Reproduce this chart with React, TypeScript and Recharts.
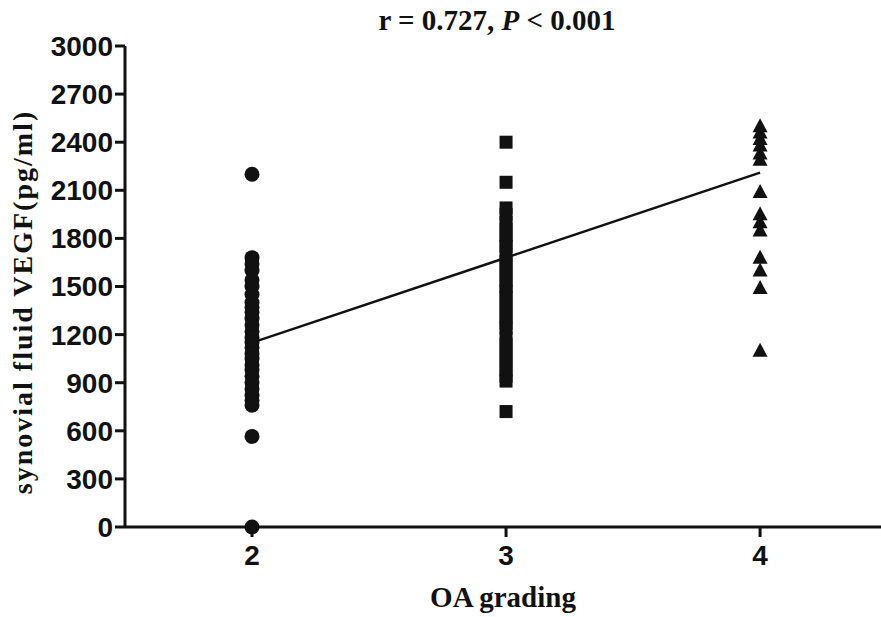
import React from 'react';
import { ScatterChart, Scatter, XAxis, YAxis } from 'recharts';

// values (pg/ml)
const grade2Values = [
  2200, 1680, 1640, 1600, 1540, 1500, 1450, 1400, 1370, 1340, 1300, 1260, 1220,
  1180, 1150, 1120, 1080, 1050, 1010, 980, 940, 900, 860, 820, 790, 760, 565, 0,
];
const grade3Values = [
  2400, 2150, 1990, 1950, 1900, 1860, 1820, 1780, 1750, 1700, 1660, 1620, 1580,
  1540, 1500, 1470, 1430, 1390, 1350, 1310, 1270, 1240, 1180, 1140, 1100, 1060,
  1020, 980, 940, 910, 720,
];
const grade4Values = [
  2500, 2460, 2420, 2380, 2330, 2290, 2090, 1950, 1900, 1850, 1680, 1600, 1490, 1100,
];
const fitX = [2, 4];
const fitY = [1150, 2210];
const xTicks = [2, 3, 4];
const yTicks = [0, 300, 600, 900, 1200, 1500, 1800, 2100, 2400, 2700, 3000];

const ink = '#111';

const toPoints = (grade: number, vals: number[]) => vals.map((v) => ({ x: grade, y: v }));
const fitData = fitX.map((x, i) => ({ x, y: fitY[i] }));

const Circle = (p: any) => <circle cx={p.cx} cy={p.cy} r={7.5} fill={ink} />;
const Square = (p: any) => (
  <rect x={p.cx - 6.5} y={p.cy - 6.5} width={13} height={13} fill={ink} />
);
const Triangle = (p: any) => (
  <path
    d={`M${p.cx},${p.cy - 8} L${p.cx + 7.5},${p.cy + 6} L${p.cx - 7.5},${p.cy + 6} Z`}
    fill={ink}
  />
);
const NoDot = () => <g />;

const tickFont = { fontFamily: 'Liberation Sans, Arial, sans-serif', fontWeight: 700, fontSize: 28, fill: ink };
const serif = 'Liberation Serif, Times New Roman, serif';

const YLabel = () => (
  <text
    x={32}
    y={302}
    transform="rotate(-90, 32, 302)"
    textAnchor="middle"
    fontFamily={serif}
    fontWeight={700}
    fontSize={28}
    letterSpacing={2}
    fill={ink}
  >
    synovial fluid VEGF(pg/ml)
  </text>
);

export default function App() {
  return (
    <div style={{ position: 'absolute', left: 0, top: 0, width: 881, height: 617, background: '#fff' }}>
      <div
        style={{
          position: 'absolute',
          top: 4,
          left: 497,
          transform: 'translateX(-50%)',
          whiteSpace: 'nowrap',
          fontFamily: serif,
          fontWeight: 700,
          fontSize: 29,
          color: ink,
        }}
      >
        r = 0.727, <i>P</i> &lt; 0.001
      </div>
      <ScatterChart width={881} height={617} margin={{ top: 46, right: 0, bottom: 30, left: 0 }}>
        <XAxis
          type="number"
          dataKey="x"
          domain={[1.5, 4.476]}
          ticks={xTicks}
          allowDataOverflow
          tickSize={10}
          tickMargin={8}
          stroke={ink}
          strokeWidth={3}
          tick={tickFont}
          height={60}
          label={{
            value: 'OA grading',
            position: 'insideBottom',
            offset: -20,
            style: { fontFamily: serif, fontWeight: 700, fontSize: 29, fill: ink },
          }}
        />
        <YAxis
          type="number"
          dataKey="y"
          domain={[0, 3000]}
          ticks={yTicks}
          interval={0}
          tickSize={10}
          tickMargin={2}
          stroke={ink}
          strokeWidth={3}
          tick={tickFont}
          width={125}
          label={{ content: YLabel }}
        />
        <Scatter data={toPoints(2, grade2Values)} shape={Circle} isAnimationActive={false} />
        <Scatter data={toPoints(3, grade3Values)} shape={Square} isAnimationActive={false} />
        <Scatter data={toPoints(4, grade4Values)} shape={Triangle} isAnimationActive={false} />
        <Scatter
          data={fitData}
          shape={NoDot}
          line={{ stroke: ink, strokeWidth: 2.5 }}
          isAnimationActive={false}
        />
      </ScatterChart>
    </div>
  );
}
